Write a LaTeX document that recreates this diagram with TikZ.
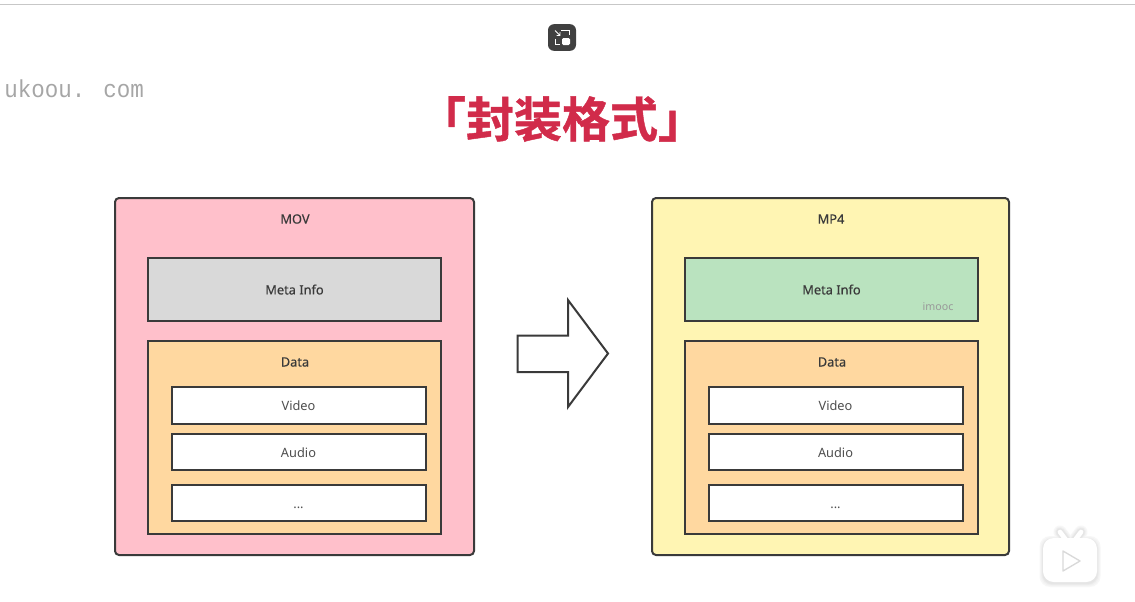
\documentclass[tikz,border=0pt]{standalone}
\usepackage{fontspec}
\usepackage{graphicx}
\setmainfont{Noto Sans}
\newfontfamily\titlefont[FakeBold=0.9]{Noto Sans CJK SC Bold}
\newfontfamily\markfont{Liberation Mono}
\newfontfamily\semifont[FakeBold=0.45]{Noto Sans}
\definecolor{inkdark}{HTML}{3A3A3A}
\definecolor{pinkbg}{HTML}{FFC0CB}
\definecolor{yellowbg}{HTML}{FFF5B3}
\definecolor{graybg}{HTML}{D9D9D9}
\definecolor{greenbg}{HTML}{BAE3BF}
\definecolor{orangebg}{HTML}{FFD8A0}
\definecolor{titlered}{HTML}{D12B4A}
\begin{document}
\begin{tikzpicture}[x=0.75pt,y=-0.75pt,
  boxline/.style={draw=inkdark,line width=1.5pt,inner sep=0pt,outer sep=0pt},
  outerbox/.style={boxline,rounded corners=3pt,minimum height=267.75pt},
  metabox/.style={boxline,minimum width=219.75pt,minimum height=47pt,font=\semifont\fontsize{9.6pt}{11pt}\selectfont,text=inkdark},
  databox/.style={boxline,fill=orangebg,minimum width=219.75pt,minimum height=144.75pt},
  itembox/.style={boxline,fill=white,minimum width=190.5pt,minimum height=27.25pt},
  itemtext/.style={font=\fontsize{9.6pt}{11pt}\selectfont,text=inkdark!90,inner sep=0pt},
  caption/.style={font=\semifont\fontsize{9.6pt}{11pt}\selectfont,text=inkdark,inner sep=0pt}]
\useasboundingbox (0,0) rectangle (1135,601);
\fill[white] (0,0) rectangle (1135,601);
\coordinate (topL) at (0,4.5);
\coordinate (topR) at (1135,4.5);
\draw[black!22,line width=0.9pt] (topL) -- (topR);

% exit-fullscreen icon
\node[fill=black!75,rounded corners=4.5pt,minimum width=21pt,minimum height=20pt,inner sep=0pt] (icon) at (562,37.5) {};
\draw[white,line width=0.6pt] (561,30.5) -- (569,30.5) -- (569,35);
\draw[white,line width=0.6pt] (555,39) -- (555,44.5) -- (559.5,44.5);
\draw[white,line width=0.7pt] (555,30.5) -- (560,35.5) (556.5,35.5) -- (560,35.5) -- (560,32);
\fill[white,rounded corners=1pt] (562,38) rectangle (570,45);

% watermark and title
\node[font=\markfont\fontsize{17.5pt}{20pt}\selectfont,text=black!35,inner sep=0pt,anchor=base west] (mark) at (4,97) {\scalebox{0.965}[1.05]{ukoou. com}};
\node[font=\titlefont\fontsize{36pt}{40pt}\selectfont,text=titlered,inner sep=0pt] (title) at (562,119) {「封装格式」};

% left container
\node[outerbox,fill=pinkbg,minimum width=269.25pt] (movbox) at (294.5,376.5) {};
\node[caption] (movlabel) at (295,219) {MOV};
\node[metabox,fill=graybg,text depth=0pt] (movmeta) at (294.5,289.5) {Meta Info};
\node[databox] (movdata) at (294.5,437.5) {};
\node[caption] (movdatalabel) at (295,362) {Data};
\node[itembox] (movvideo) at (298.5,405.5) {};
\node[itemtext] at (298.5,406) {Video};
\node[itembox] (movaudio) at (298.5,452) {};
\node[itemtext] at (298.5,452.5) {Audio};
\node[itembox] (movetc) at (298.5,503) {};
\node[itemtext] (movdots) at (298.5,508) {...};

% arrow
\draw[inkdark,line width=1.5pt,line join=miter,fill=white]
  (517.5,335.5) -- (568,335.5) -- (568,300) -- (608,353.5) -- (568,407) -- (568,372) -- (517.5,372) -- cycle;

% right container
\node[outerbox,fill=yellowbg,minimum width=267.75pt] (mp4box) at (830.5,376.5) {};
\node[caption] (mp4label) at (831,219) {MP4};
\node[metabox,fill=greenbg,text depth=0pt] (mp4meta) at (831.5,289.5) {Meta Info};
\node[font=\fontsize{8pt}{10pt}\selectfont,text=black!40,inner sep=0pt] (imooc) at (938,307) {imooc};
\node[databox] (mp4data) at (831.5,437.5) {};
\node[caption] (mp4datalabel) at (832,362) {Data};
\node[itembox] (mp4video) at (835.5,405.5) {};
\node[itemtext] at (835.5,406) {Video};
\node[itembox] (mp4audio) at (835.5,452) {};
\node[itemtext] at (835.5,452.5) {Audio};
\node[itembox] (mp4etc) at (835.5,503) {};
\node[itemtext] (mp4dots) at (835.5,508) {...};

% tv badge
\foreach \o/\g in {3.5/3,2.5/5,1.5/8,0.7/10}{
  \fill[black!\g,rounded corners=8pt] (1043-\o,538-\o+1.5) rectangle (1097+\o,582+\o+1.5);
  \draw[black!\g,line width=4.5pt+2*\o*0.75pt,line cap=round] (1060,532) -- (1066,540);
  \draw[black!\g,line width=4.5pt+2*\o*0.75pt,line cap=round] (1081,532) -- (1075,540);
}
\draw[white,line width=3.5pt,line cap=round] (1060,532) -- (1066,540);
\draw[white,line width=3.5pt,line cap=round] (1081,532) -- (1075,540);
\fill[white,rounded corners=8pt] (1043,538) rectangle (1097,582);
\draw[black!15,line width=1pt,line join=round,fill=white] (1063,551) -- (1080,561) -- (1063,571) -- cycle;
\end{tikzpicture}
\end{document}
